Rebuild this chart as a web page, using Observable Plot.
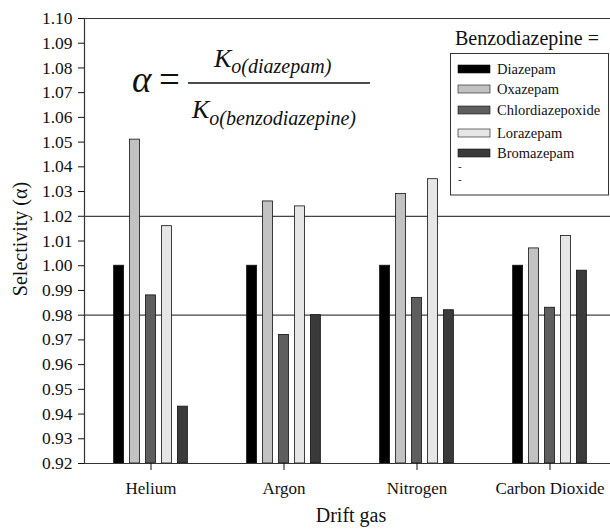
<!DOCTYPE html>
<html><head><meta charset="utf-8">
<script src="https://cdn.jsdelivr.net/npm/d3@7"></script>
<script src="https://cdn.jsdelivr.net/npm/@observablehq/plot@0.6"></script>
<style>
body{margin:0;background:#fff}
#chart{position:relative;width:610px;height:529px;overflow:hidden}
#chart svg, #chart svg text{font-family:"Liberation Serif", serif}
</style>
</head><body><div id="chart"></div>
<script>
// Data
const gases = ["Helium", "Argon", "Nitrogen", "Carbon Dioxide"];
const drugs = ["Diazepam", "Oxazepam", "Chlordiazepoxide", "Lorazepam", "Bromazepam"];
const diazepam         = [1.000, 1.000, 1.000, 1.000];
const oxazepam         = [1.051, 1.026, 1.029, 1.007];
const chlordiazepoxide = [0.988, 0.972, 0.987, 0.983];
const lorazepam        = [1.016, 1.024, 1.035, 1.012];
const bromazepam       = [0.943, 0.980, 0.982, 0.998];
const yTicks = [0.92, 0.93, 0.94, 0.95, 0.96, 0.97, 0.98, 0.99, 1.00, 1.01, 1.02, 1.03, 1.04, 1.05, 1.06, 1.07, 1.08, 1.09, 1.10];
const refLines = [0.98, 1.02];
const drugColors = ["#000000", "#c2c2c2", "#5e5e5e", "#e6e6e6", "#3a3a3a"];
const legendTitle = "Benzodiazepine =";
const legendExtras = ["-", "-"];

const series = [diazepam, oxazepam, chlordiazepoxide, lorazepam, bromazepam];
const rows = gases.flatMap((g, i) => drugs.map((d, j) => ({gas: g, drug: d, value: series[j][i]})));

const serif = "Liberation Serif";

const chart = Plot.plot({
  width: 610, height: 529,
  marginLeft: 83, marginRight: 0, marginTop: 18, marginBottom: 66,
  style: {fontFamily: serif, background: "white", color: "#111", fontSize: "17px"},
  fx: {domain: gases, range: [83, 617], padding: 0, label: null},
  x: {domain: drugs, paddingInner: 0.375, paddingOuter: 1.86, round: false, axis: null},
  y: {domain: [0.92, 1.10], axis: null},
  color: {domain: drugs, range: drugColors},
  marks: [
    Plot.ruleY(refLines, {stroke: "#444", strokeWidth: 1.2}),
    Plot.ruleY([1.10], {stroke: "#333", strokeWidth: 1.2}),
    Plot.barY(rows, {fx: "gas", x: "drug", y1: 0.92, y2: "value", fill: "drug", stroke: "#111", strokeWidth: 0.8}),
    Plot.ruleY([0.92], {stroke: "#333", strokeWidth: 1.2}),
    Plot.frame({anchor: "left", facetAnchor: "left", stroke: "#333", strokeWidth: 1.2}),
    Plot.axisY({ticks: yTicks, tickFormat: d => d.toFixed(2), tickSize: 6, tickPadding: 6, fontSize: 17.5, label: null, anchor: "left"}),
    Plot.axisFx({anchor: "bottom", tickSize: 7, tickPadding: 11, fontSize: 17, label: null})
  ]
});
document.getElementById("chart").appendChild(chart);

const svg = d3.select(chart);
svg.attr("overflow", "hidden");
const g = svg.append("g").attr("font-family", serif).style("font-family", serif)
  .attr("text-anchor", "start").attr("fill", "#111");

// Formula
const formula = g.append("g").attr("font-style", "italic");
formula.append("text").attr("x", 132).attr("y", 92).attr("font-size", 37).text("α");
formula.append("text").attr("x", 159).attr("y", 92).attr("font-size", 37).attr("font-style", "normal").text("=");
formula.append("line").attr("x1", 188).attr("x2", 370).attr("y1", 83).attr("y2", 83).attr("stroke", "#111").attr("stroke-width", 1.5);
const num = formula.append("text").attr("x", 214).attr("y", 67).attr("font-size", 26);
num.append("tspan").text("K");
num.append("tspan").attr("font-size", 20).attr("dy", 6).text("o(diazepam)");
const den = formula.append("text").attr("x", 192).attr("y", 118).attr("font-size", 26);
den.append("tspan").text("K");
den.append("tspan").attr("font-size", 20).attr("dy", 7).text("o(benzodiazepine)");

// Legend
g.append("text").attr("x", 455).attr("y", 45).attr("font-size", 20).text(legendTitle);
g.append("rect").attr("x", 450.5).attr("y", 53.5).attr("width", 158).attr("height", 141.5)
  .attr("fill", "white").attr("stroke", "#333").attr("stroke-width", 1);
const colorScale = chart.scale("color");
const baselines = [74, 94, 115, 138, 158];
drugs.forEach((d, i) => {
  const idx = colorScale.domain.indexOf(d);
  g.append("rect").attr("x", 458).attr("y", baselines[i] - 9).attr("width", 32).attr("height", 8)
    .attr("fill", colorScale.range[idx]).attr("stroke", "#111").attr("stroke-width", 0.6);
  g.append("text").attr("x", 497).attr("y", baselines[i]).attr("font-size", 14.5).text(d);
});
legendExtras.forEach((t, i) => {
  g.append("text").attr("x", 458).attr("y", 170 + i * 13).attr("font-size", 11).text(t);
});

// Axis titles
g.append("text").attr("transform", "translate(27,239) rotate(-90)").attr("text-anchor", "middle")
  .attr("font-size", 20).text("Selectivity (α)");
g.append("text").attr("x", 351).attr("y", 522).attr("text-anchor", "middle").attr("font-size", 20).text("Drift gas");
</script>
</body></html>
